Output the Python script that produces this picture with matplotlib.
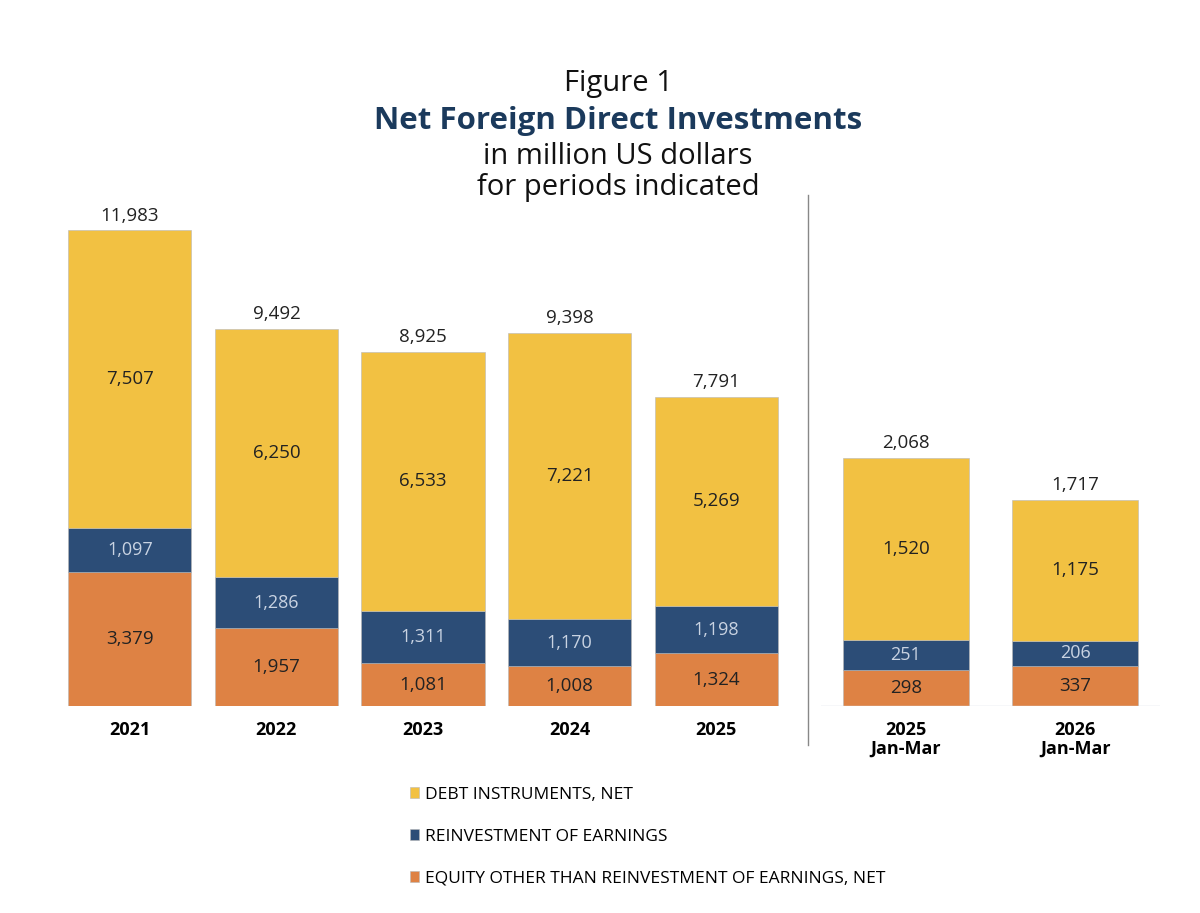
import matplotlib.pyplot as plt
from matplotlib.lines import Line2D

# data
years = ['2021', '2022', '2023', '2024', '2025']
equity = [3379, 1957, 1081, 1008, 1324]
reinvest = [1097, 1286, 1311, 1170, 1198]
debt = [7507, 6250, 6533, 7221, 5269]
totals = [11983, 9492, 8925, 9398, 7791]

quarters = ['2025\nJan-Mar', '2026\nJan-Mar']
q_equity = [298, 337]
q_reinvest = [251, 206]
q_debt = [1520, 1175]
q_totals = [2068, 1717]

series_names = ['DEBT INSTRUMENTS, NET', 'REINVESTMENT OF EARNINGS',
                'EQUITY OTHER THAN REINVESTMENT OF EARNINGS, NET']

c_debt = '#F2C142'
c_reinv = '#2C4D77'
c_equity = '#DE8244'
navy = '#1B3A5C'

plt.rcParams['font.family'] = ['Open Sans', 'DejaVu Sans']

W, H = 1200, 913
fig = plt.figure(figsize=(12, 9.13), dpi=100)


def px(x0, y0, x1, y1):
    # pixel box (top-left origin) -> figure fraction
    return [x0 / W, 1 - y1 / H, (x1 - x0) / W, (y1 - y0) / H]


def stacked(ax, cats, eq, ri, de, tot, width, ymax):
    x = list(range(len(cats)))
    b1 = ax.bar(x, eq, width, color=c_equity, edgecolor='#b8b8b8', linewidth=0.4)
    b2 = ax.bar(x, ri, width, bottom=eq, color=c_reinv, edgecolor='#b8b8b8', linewidth=0.4)
    bot = [a + b for a, b in zip(eq, ri)]
    b3 = ax.bar(x, de, width, bottom=bot, color=c_debt, edgecolor='#b8b8b8', linewidth=0.4)
    for i in x:
        ax.text(i, eq[i] / 2, f'{eq[i]:,}', ha='center', va='center', fontsize=13.5, color='#222222')
        ax.text(i, eq[i] + ri[i] / 2, f'{ri[i]:,}', ha='center', va='center', fontsize=13, color='#c9d3e2')
        ax.text(i, bot[i] + de[i] / 2, f'{de[i]:,}', ha='center', va='center', fontsize=13.5, color='#222222')
        ax.text(i, tot[i] + ymax * 0.011, f'{tot[i]:,}', ha='center', va='bottom', fontsize=13.5, color='#222222')
    ax.set_ylim(0, ymax)
    ax.set_xticks(x)
    ax.set_xticklabels(cats, fontsize=13, fontweight='bold', linespacing=1.05)
    ax.tick_params(axis='x', length=0, pad=11)
    ax.set_yticks([])
    for s in ax.spines.values():
        s.set_visible(False)
    return b3, b2, b1


ax1 = fig.add_axes(px(42, 200, 804, 706))
handles = stacked(ax1, years, equity, reinvest, debt, totals, 0.84, 12740)
ax1.set_xlim(-0.6, 4.6)

ax2 = fig.add_axes(px(821, 200, 1160, 706))
stacked(ax2, quarters, q_equity, q_reinvest, q_debt, q_totals, 0.745, 4217)
ax2.set_xlim(-0.5, 1.5)
ax2.axhline(0, color='#d5dbe3', linewidth=1)

# vertical separator between annual and quarterly panels
fig.add_artist(Line2D([808 / W, 808 / W], [1 - 195 / H, 1 - 745 / H], color='#888888', linewidth=1))

# titles
fig.text(0.515, 1 - 84 / H, 'Figure 1', ha='center', va='center', fontsize=21, color='#111111')
fig.text(0.515, 1 - 121 / H, 'Net Foreign Direct Investments', ha='center', va='center',
         fontsize=22.5, fontweight='bold', color=navy)
fig.text(0.515, 1 - 157 / H, 'in million US dollars', ha='center', va='center', fontsize=21, color='#111111')
fig.text(0.515, 1 - 188 / H, 'for periods indicated', ha='center', va='center', fontsize=21, color='#111111')

fig.legend(handles, series_names, loc='upper left', bbox_to_anchor=(394 / W, 1 - 771 / H),
           frameon=False, fontsize=12.5, labelspacing=1.5, handlelength=0.55, handleheight=0.55,
           handletextpad=0.35)

fig.savefig('out.png', dpi=100, facecolor='white')
